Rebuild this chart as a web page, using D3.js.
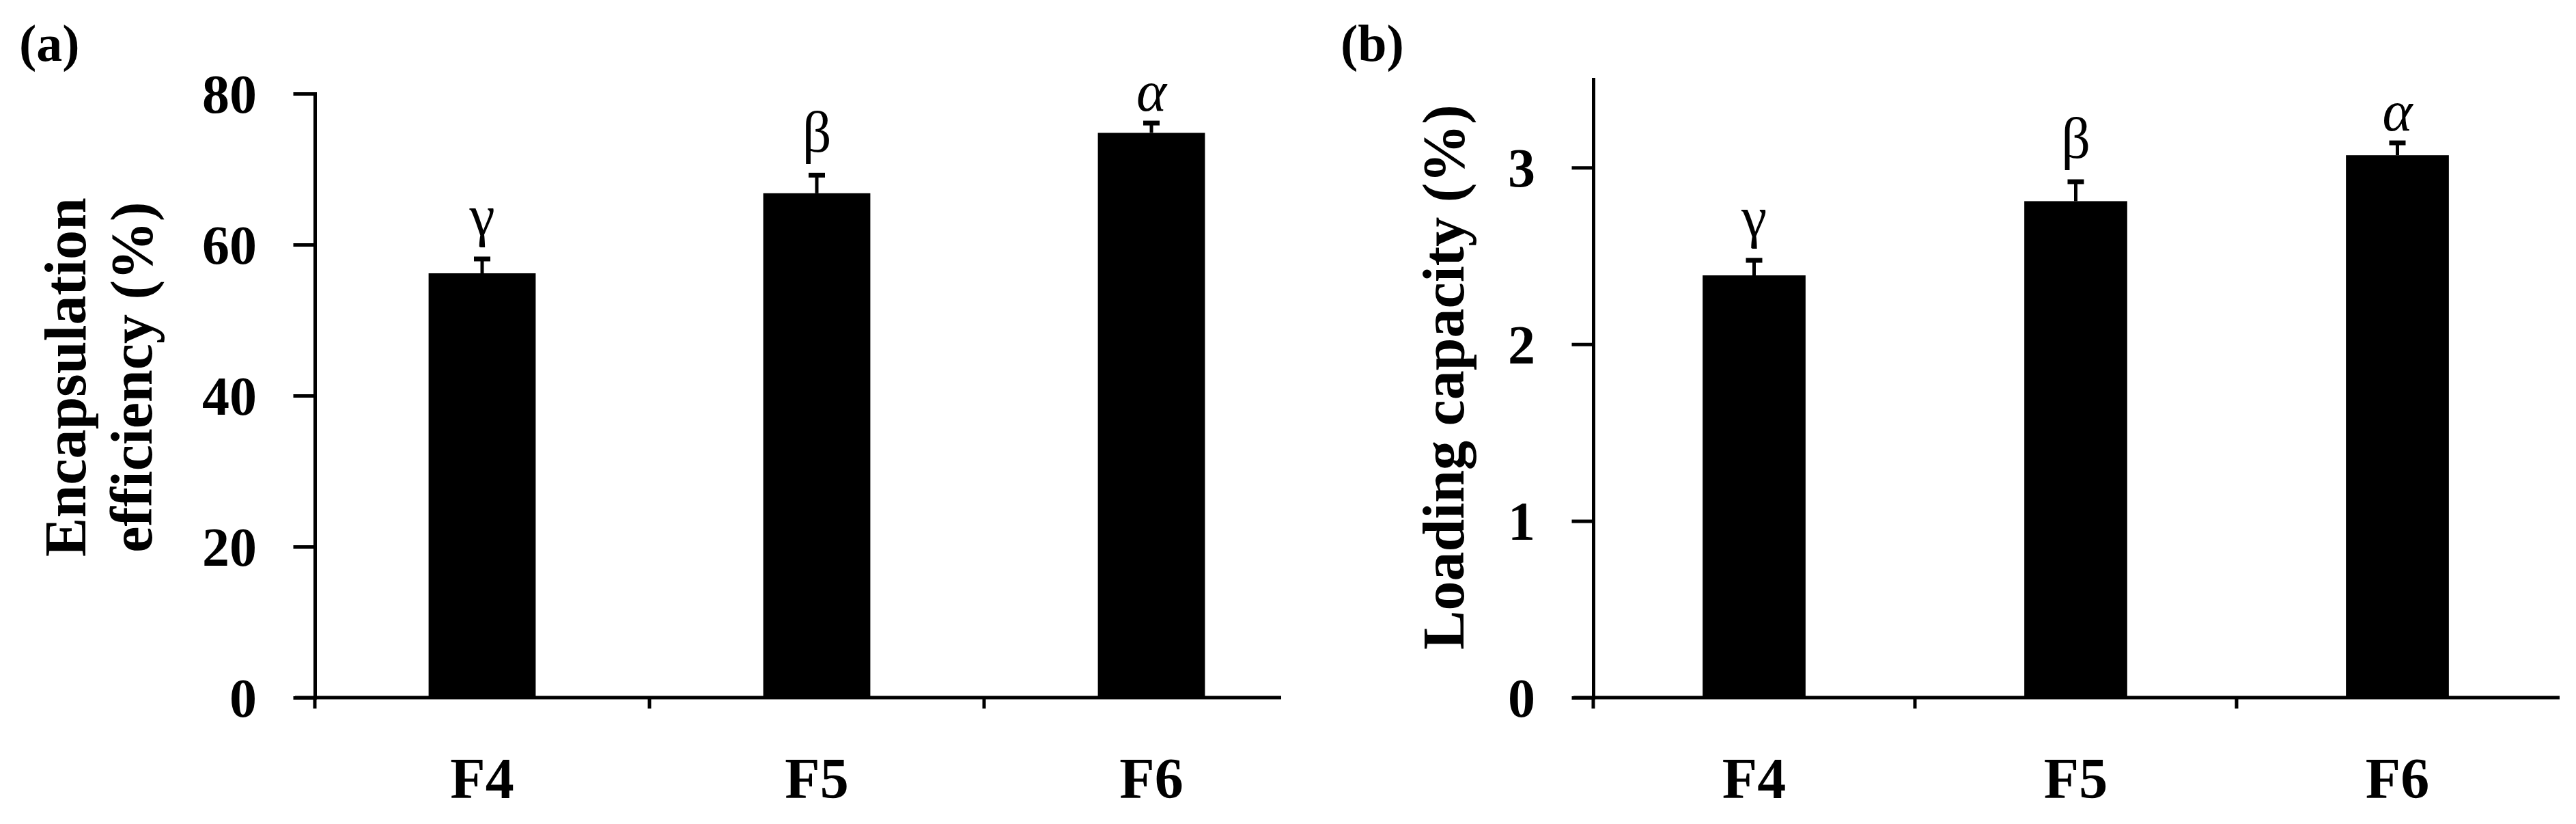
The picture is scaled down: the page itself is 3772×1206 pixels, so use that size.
<!DOCTYPE html>
<html>
<head>
<meta charset="utf-8">
<script src="https://cdn.jsdelivr.net/npm/d3@7"></script>
<style>
  body { margin: 0; background: #fff; }
  svg { display: block; }
  text { font-family: 'Liberation Serif', 'Times New Roman', serif; fill: #000; }
</style>
</head>
<body>
<svg id="chart" width="3772" height="1206"></svg>
<script>
const categories = ['F4', 'F5', 'F6']

const efficiencyValues = [56.2, 66.8, 74.8]
const efficiencyErrors = [1.9, 2.4, 1.3]
const efficiencyLetters = ['γ', 'β', 'α']
const efficiencyTicks = [0, 20, 40, 60, 80]

const loadingValues = [2.39, 2.81, 3.07]
const loadingErrors = [0.085, 0.11, 0.07]
const loadingLetters = ['γ', 'β', 'α']
const loadingTicks = [0, 1, 2, 3]

// how far below the baseline each letter reaches, in em
const letterDescent = {'α': 0, 'β': 0.2, 'γ': 0.2}

class BarPanel {
  constructor(svg, opts) {
    const g = svg.append('g')

    const yScale = d3.scaleLinear()
      .domain([0, opts.yMax])
      .range([opts.bottom, opts.top])

    const xScale = d3.scaleBand()
      .domain(categories)
      .range([opts.left, opts.left + opts.step * categories.length])
      .padding(0)

    this.drawBars(g, xScale, yScale, opts)
    this.drawYAxis(g, yScale, opts)
    this.drawXAxis(g, xScale, yScale, opts)
    this.drawTitle(g, opts)

    g.append('text')
      .attr('x', opts.tagX)
      .attr('y', 89)
      .attr('font-size', 76)
      .attr('font-weight', 'bold')
      .text(opts.tag)
  }

  drawBars(g, xScale, yScale, opts) {
    const barWidth = xScale.bandwidth() * 0.32
    const rows = categories.map((c, i) => ({
      cat: c,
      value: opts.values[i],
      err: opts.errors[i],
      letter: opts.letters[i]
    }))
    const cx = (d) => xScale(d.cat) + xScale.bandwidth() / 2

    g.append('g').attr('class', 'bars').selectAll('rect')
      .data(rows)
      .enter().append('rect')
      .attr('x', d => cx(d) - barWidth / 2)
      .attr('width', barWidth)
      .attr('y', d => yScale(d.value))
      .attr('height', d => yScale(0) - yScale(d.value))
      .attr('fill', '#000')

    const errs = g.append('g').attr('class', 'errors')
      .attr('stroke', '#000')

    errs.selectAll('.stem')
      .data(rows)
      .enter().append('line')
      .attr('class', 'stem')
      .attr('x1', cx)
      .attr('x2', cx)
      .attr('y1', d => yScale(d.value))
      .attr('y2', d => yScale(d.value + d.err))
      .attr('stroke-width', 5)

    errs.selectAll('.cap')
      .data(rows)
      .enter().append('line')
      .attr('class', 'cap')
      .attr('x1', d => cx(d) - 12)
      .attr('x2', d => cx(d) + 12)
      .attr('y1', d => yScale(d.value + d.err))
      .attr('y2', d => yScale(d.value + d.err))
      .attr('stroke-width', 7)

    const letterSize = 84
    g.append('g').attr('class', 'letters').selectAll('text')
      .data(rows)
      .enter().append('text')
      .attr('x', cx)
      .attr('y', d => yScale(d.value + d.err) - 18 - letterDescent[d.letter] * letterSize)
      .attr('text-anchor', 'middle')
      .attr('font-size', letterSize)
      .attr('font-style', d => d.letter === 'α' ? 'italic' : 'normal')
      .text(d => d.letter)
  }

  drawYAxis(g, yScale, opts) {
    const yAxis = d3.axisLeft(yScale)
      .tickValues(opts.ticks)
      .tickSizeInner(29)
      .tickSizeOuter(0)
      .tickPadding(56)
      .tickFormat(d3.format('d'))

    const axis = g.append('g')
      .attr('transform', `translate(${opts.left}, 0)`)
      .call(yAxis)

    axis.selectAll('path, line')
      .attr('stroke', '#000')
      .attr('stroke-width', 5)
      .attr('stroke-linecap', 'square')

    axis.selectAll('text')
      .attr('font-family', "'Liberation Serif', 'Times New Roman', serif")
      .attr('font-size', 80)
      .attr('font-weight', 'bold')
      .attr('fill', '#000')
      .attr('dy', '0.34em')
  }

  drawXAxis(g, xScale, yScale, opts) {
    const y0 = yScale(0)

    g.append('line')
      .attr('x1', opts.left - 29)
      .attr('x2', opts.axisEnd)
      .attr('y1', y0)
      .attr('y2', y0)
      .attr('stroke', '#000')
      .attr('stroke-width', 5)

    g.append('g').attr('class', 'x-ticks').selectAll('line')
      .data(categories)
      .enter().append('line')
      .attr('x1', d => xScale(d))
      .attr('x2', d => xScale(d))
      .attr('y1', y0)
      .attr('y2', y0 + 16)
      .attr('stroke', '#000')
      .attr('stroke-width', 5)

    const xAxis = d3.axisBottom(xScale)
      .tickSize(0)
      .tickPadding(87)

    const axis = g.append('g')
      .attr('transform', `translate(0, ${y0})`)
      .call(xAxis)

    axis.select('.domain').remove()
    axis.selectAll('text')
      .attr('font-family', "'Liberation Serif', 'Times New Roman', serif")
      .attr('font-size', 84)
      .attr('font-weight', 'bold')
      .attr('fill', '#000')
  }

  drawTitle(g, opts) {
    const title = g.append('text')
      .attr('transform', `translate(${opts.titleX}, 552) rotate(-90)`)
      .attr('text-anchor', 'middle')
      .attr('font-size', 86)
      .attr('font-weight', 'bold')

    opts.title.forEach((line, i) => {
      title.append('tspan')
        .attr('x', 0)
        .attr('y', i * 97)
        .text(line)
    })
  }
}

const svg = d3.select('#chart')

new BarPanel(svg, {
  tag: '(a)', tagX: 28,
  title: ['Encapsulation', 'efficiency (%)'], titleX: 125,
  values: efficiencyValues, errors: efficiencyErrors, letters: efficiencyLetters,
  ticks: efficiencyTicks, yMax: 80,
  left: 461, step: 490, axisEnd: 1876, top: 137, bottom: 1021
})

new BarPanel(svg, {
  tag: '(b)', tagX: 1963,
  title: ['Loading capacity (%)'], titleX: 2143,
  values: loadingValues, errors: loadingErrors, letters: loadingLetters,
  ticks: loadingTicks, yMax: 3.5,
  left: 2333, step: 471, axisEnd: 3748, top: 116, bottom: 1021
})
</script>
</body>
</html>
